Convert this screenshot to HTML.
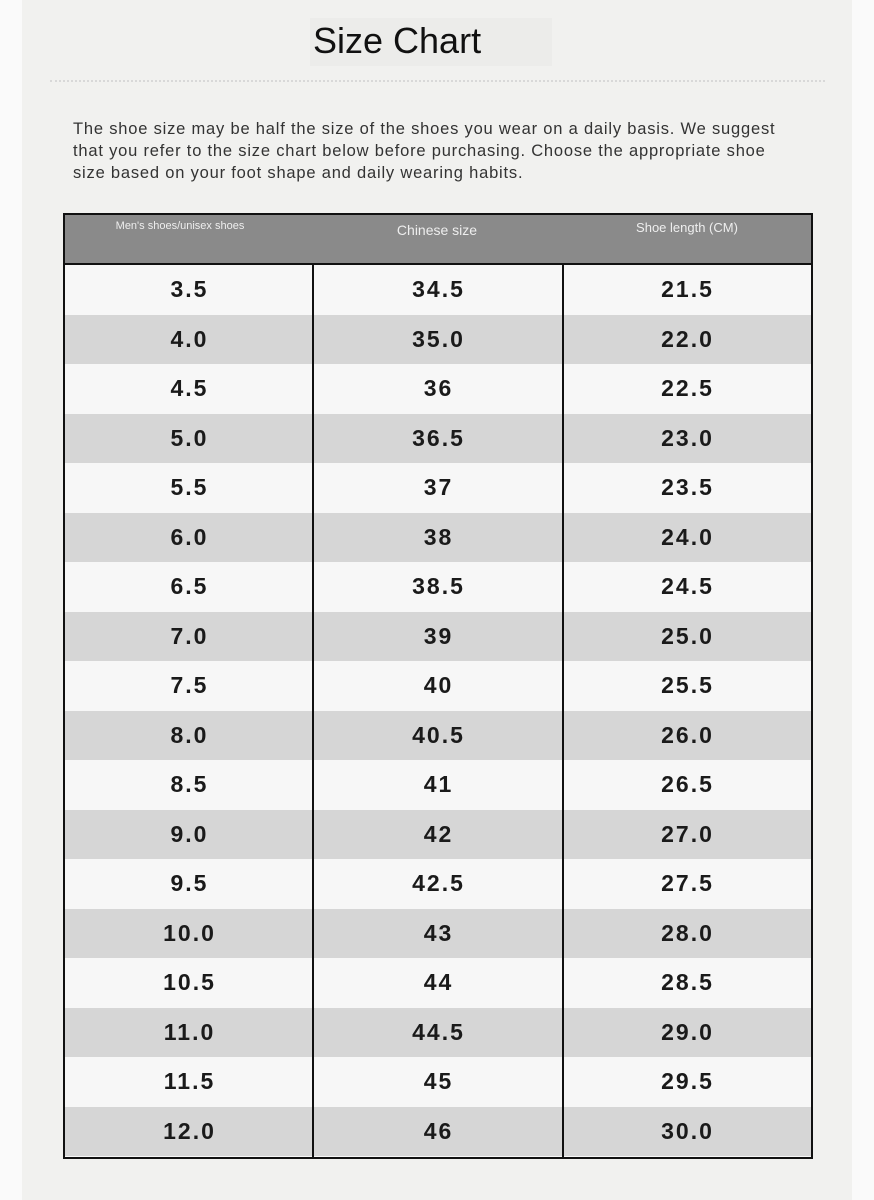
<!DOCTYPE html>
<html><head><meta charset="utf-8"><style>
*{margin:0;padding:0;box-sizing:border-box}
body{width:874px;height:1200px;background:#fafafa;position:relative;font-family:"Liberation Sans",sans-serif;overflow:hidden}
.panel{position:absolute;left:22px;top:0;width:830px;height:1200px;background:#f1f1ef}
.title{position:absolute;left:310px;top:18px;width:242px;height:48px;background:#ececea;font-size:36px;color:#111;line-height:46px;padding-left:3px}
.dots{position:absolute;left:50px;top:80px;width:775px;border-top:2px dotted #d8d8d8}
.para{position:absolute;left:73px;top:118px;width:760px;font-size:16.5px;line-height:22px;color:#333;letter-spacing:0.8px;white-space:nowrap}
.tbl{position:absolute;left:63px;top:213px;width:750px;height:946px;border:2px solid #111;background:#f7f7f7;overflow:hidden}
.hdr{position:absolute;left:0;top:0;width:746px;height:50px;background:#8a8a8a;border-bottom:2px solid #111;color:#eee}
.hdr span{position:absolute;text-align:center}
.row{position:absolute;left:0;width:746px;height:49.5px}
.row.g{background:#d6d6d6}
.row span{position:absolute;width:249px;text-align:center;font-weight:bold;font-size:23px;letter-spacing:2px;color:#1a1a1a;line-height:49.5px}
.vl{position:absolute;top:50px;width:2px;height:892px;background:#111}
</style></head><body>
<div class="panel"></div>
<div class="title">Size Chart</div>
<div class="dots"></div>
<div class="para">The shoe size may be half the size of the shoes you wear on a daily basis. We suggest<br>that you refer to the size chart below before purchasing. Choose the appropriate shoe<br>size based on your foot shape and daily wearing habits.</div>
<div class="tbl">
<div class="hdr">
<span style="left:0;width:230px;top:5px;font-size:11px">Men's shoes/unisex shoes</span>
<span style="left:247px;width:250px;top:7px;font-size:14px">Chinese size</span>
<span style="left:497px;width:250px;top:5px;font-size:13px">Shoe length (CM)</span>
</div>
<div id="rows"></div>
<div class="vl" style="left:247px"></div>
<div class="vl" style="left:497px"></div>
</div>
<script>
var d=[["3.5","34.5","21.5"],["4.0","35.0","22.0"],["4.5","36","22.5"],["5.0","36.5","23.0"],["5.5","37","23.5"],["6.0","38","24.0"],["6.5","38.5","24.5"],["7.0","39","25.0"],["7.5","40","25.5"],["8.0","40.5","26.0"],["8.5","41","26.5"],["9.0","42","27.0"],["9.5","42.5","27.5"],["10.0","43","28.0"],["10.5","44","28.5"],["11.0","44.5","29.0"],["11.5","45","29.5"],["12.0","46","30.0"]];
var h="";d.forEach(function(r,i){h+='<div class="row'+(i%2?' g':'')+'" style="top:'+(50+i*49.5)+'px"><span style="left:0">'+r[0]+'</span><span style="left:249px">'+r[1]+'</span><span style="left:498px">'+r[2]+'</span></div>'});
document.getElementById("rows").innerHTML=h;
</script>
</body></html>
